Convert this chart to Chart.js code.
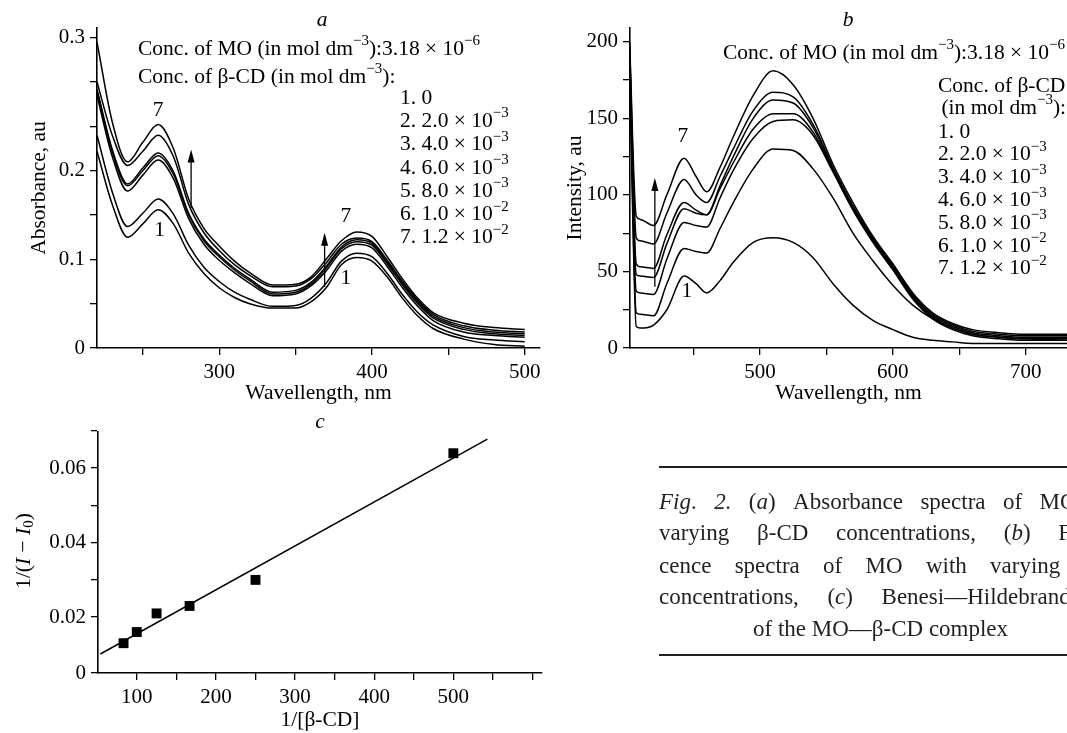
<!DOCTYPE html>
<html>
<head>
<meta charset="utf-8">
<script src="https://cdn.jsdelivr.net/npm/chart.js@4.4.0/dist/chart.umd.min.js"></script>
<style>
html, body { margin: 0; padding: 0; background: #fff; overflow: hidden; }
#page { position: relative; width: 1067px; height: 733px; overflow: hidden; }
#page canvas { position: absolute; left: 0; top: 0; }
.rule { position: absolute; left: 659px; width: 420px; border-top: 2px solid #231f20; }
.cl { position: absolute; left: 659px; width: 476px; height: 26px; display: flex; justify-content: space-between;
      white-space: nowrap; font-family: "Liberation Serif", serif; font-size: 23px; line-height: 26px; color: #231f20; }
.cl.last { left: 753px; width: auto; display: block; }
</style>
</head>
<body>
<div id="page">
  <canvas id="chartA" width="1067" height="733"></canvas>
  <canvas id="chartB" width="1067" height="733"></canvas>
  <canvas id="chartC" width="1067" height="733"></canvas>
  <div class="rule" style="top:466px"></div>
  <div class="cl" style="top:489px"><span><i>Fig</i>.</span><span><i>2.</i></span><span>(<i>a</i>)</span><span>Absorbance</span><span>spectra</span><span>of</span><span>MO</span><span>with</span></div>
  <div class="cl" style="top:520px"><span>varying</span><span>β-CD</span><span>concentrations,</span><span>(<i>b</i>)</span><span>Fluores-</span></div>
  <div class="cl" style="top:553px"><span>cence</span><span>spectra</span><span>of</span><span>MO</span><span>with</span><span>varying</span><span>β-CD</span></div>
  <div class="cl" style="top:584px"><span>concentrations,</span><span>(<i>c</i>)</span><span>Benesi—Hildebrand</span><span>plot</span></div>
  <div class="cl last" style="top:616px">of the MO—β-CD complex</div>
  <div class="rule" style="top:654px"></div>
</div>
<script>
'use strict';

// ---- panel a: absorbance spectra ----
var absWave = [220, 230, 240, 250, 260, 270, 280, 290, 300, 310, 320, 335, 350, 360, 370, 380, 390, 400, 410, 420, 430, 440, 460, 480, 500];
var abs1 = [0.222, 0.162, 0.125, 0.140, 0.156, 0.140, 0.107, 0.084, 0.068, 0.057, 0.050, 0.045, 0.045, 0.052, 0.068, 0.094, 0.102, 0.098, 0.080, 0.056, 0.036, 0.022, 0.010, 0.004, 0.002];
var abs2 = [0.240, 0.176, 0.137, 0.152, 0.168, 0.151, 0.116, 0.091, 0.075, 0.063, 0.055, 0.047, 0.048, 0.056, 0.073, 0.098, 0.107, 0.103, 0.084, 0.060, 0.040, 0.026, 0.013, 0.009, 0.007];
var abs3 = [0.285, 0.216, 0.177, 0.195, 0.212, 0.191, 0.146, 0.117, 0.099, 0.085, 0.073, 0.059, 0.061, 0.070, 0.087, 0.109, 0.117, 0.113, 0.092, 0.068, 0.047, 0.031, 0.018, 0.014, 0.012];
var abs4 = [0.290, 0.221, 0.183, 0.200, 0.217, 0.196, 0.150, 0.121, 0.103, 0.088, 0.076, 0.061, 0.063, 0.072, 0.090, 0.112, 0.120, 0.116, 0.095, 0.071, 0.050, 0.034, 0.021, 0.016, 0.014];
var abs5 = [0.292, 0.224, 0.185, 0.203, 0.220, 0.199, 0.152, 0.123, 0.105, 0.090, 0.078, 0.063, 0.065, 0.074, 0.092, 0.114, 0.122, 0.118, 0.097, 0.073, 0.052, 0.036, 0.023, 0.018, 0.016];
var abs6 = [0.300, 0.240, 0.206, 0.222, 0.240, 0.216, 0.162, 0.130, 0.110, 0.094, 0.082, 0.069, 0.070, 0.078, 0.096, 0.117, 0.124, 0.120, 0.099, 0.075, 0.054, 0.038, 0.025, 0.020, 0.018];
var abs7 = [0.345, 0.255, 0.210, 0.232, 0.252, 0.225, 0.168, 0.135, 0.115, 0.098, 0.085, 0.071, 0.072, 0.080, 0.100, 0.121, 0.131, 0.126, 0.103, 0.078, 0.056, 0.040, 0.028, 0.023, 0.021];
var absYTicks = [0, 0.05, 0.1, 0.15, 0.2, 0.25, 0.3, 0.35];
var absYLabels = ['0', '', '0.1', '', '0.2', '', '', '0.3'];
var absXTicks = [250, 300, 350, 400, 450, 500];

// ---- panel b: fluorescence spectra ----
var flWave = [402, 407, 410, 420, 430, 443, 452, 460, 470, 480, 495, 510, 525, 540, 555, 570, 585, 600, 615, 630, 645, 660, 680, 700, 731];
var fl1 = [188, 14, 13, 15, 25, 47, 42, 36, 44, 56, 69, 72, 69, 59, 42, 28, 18, 12, 7, 5, 4, 3, 3, 3, 3];
var fl2 = [190, 23, 22, 21, 42, 65, 63, 62, 78, 95, 117, 130, 129, 117, 98, 75, 57, 41, 28, 19, 13, 9, 7, 6, 5];
var fl3 = [192, 37, 36, 35, 58, 82, 80, 79, 98, 116, 137, 148, 149, 139, 115, 90, 69, 51, 32, 19, 12, 8, 6, 5, 5];
var fl4 = [194, 48, 47, 46, 68, 91, 88, 87, 104, 121, 143, 153, 153, 141, 116, 91, 70, 52, 33, 20, 13, 9, 7, 6, 6];
var fl5 = [196, 55, 53, 52, 74, 95, 90, 87, 106, 125, 150, 162, 160, 144, 117, 92, 71, 53, 34, 21, 14, 10, 8, 7, 7];
var fl6 = [198, 72, 70, 68, 88, 110, 100, 95, 112, 130, 155, 167, 164, 146, 118, 93, 72, 54, 35, 22, 15, 11, 9, 8, 8];
var fl7 = [200, 86, 84, 80, 100, 124, 112, 102, 118, 138, 165, 181, 172, 150, 120, 95, 73, 55, 36, 23, 16, 12, 10, 9, 9];
var flYTicks = [0, 25, 50, 75, 100, 125, 150, 175, 200];
var flYLabels = ['0', '', '50', '', '100', '', '150', '', '200'];
var flXTicks = [450, 500, 550, 600, 650, 700];

// ---- panel c: Benesi-Hildebrand plot ----
var bhX = [83.3, 100, 125, 166.7, 250, 500];
var bhY = [0.013, 0.016, 0.021, 0.023, 0.030, 0.064];
var fitX = [54, 543];
var fitY = [0.0101, 0.0678];
var bhYTicks = [0.005, 0.02, 0.03, 0.04, 0.05, 0.06, 0.07];
var bhYLabels = ['0', '0.02', '', '0.04', '', '0.06', ''];
var bhXTicks = [100, 150, 200, 250, 300, 350, 400, 450, 500, 550, 600];

// concentration list (β-CD)
var concNum = ['1. ', '2. ', '3. ', '4. ', '5. ', '6. ', '7. '];
var concVal = ['0', '2.0 × 10', '4.0 × 10', '6.0 × 10', '8.0 × 10', '1.0 × 10', '1.2 × 10'];
var concExp = ['', '−3', '−3', '−3', '−3', '−2', '−2'];

var FONT = '"Liberation Serif", serif';
var INK = '#000';
var TXT = 21.5;
Chart.defaults.font.family = FONT;
Chart.defaults.font.size = 21;
Chart.defaults.color = INK;

function pts(xs, ys) {
  return xs.map(function (x, i) { return { x: x, y: ys[i] }; });
}

function fontFor(kind, size) {
  var small = kind === 'sup' || kind === 'sub';
  var s = small ? Math.round(size * 0.68) : size;
  var it = kind === 'i' ? 'italic ' : '';
  return it + s + 'px ' + FONT;
}

// draws text made of parts [text, kind], kind: '' | 'i' | 'sup' | 'sub'
function rich(ctx, parts, x, y, size, align) {
  var w = 0;
  parts.forEach(function (p) { ctx.font = fontFor(p[1], size); w += ctx.measureText(p[0]).width; });
  var cx = align === 'right' ? x - w : (align === 'center' ? x - w / 2 : x);
  ctx.textAlign = 'left';
  ctx.textBaseline = 'middle';
  parts.forEach(function (p) {
    ctx.font = fontFor(p[1], size);
    var dy = p[1] === 'sup' ? -size * 0.36 : (p[1] === 'sub' ? size * 0.22 : 0);
    ctx.fillText(p[0], cx, y + dy);
    cx += ctx.measureText(p[0]).width;
  });
}

function arrowUp(ctx, x, yFrom, yTo) {
  ctx.strokeStyle = INK;
  ctx.fillStyle = INK;
  ctx.lineWidth = 1.3;
  ctx.beginPath(); ctx.moveTo(x, yFrom); ctx.lineTo(x, yTo + 8); ctx.stroke();
  ctx.beginPath(); ctx.moveTo(x, yTo); ctx.lineTo(x - 3.5, yTo + 13); ctx.lineTo(x + 3.5, yTo + 13); ctx.closePath(); ctx.fill();
}

function concList(ctx, x, y0, dy) {
  concVal.forEach(function (v, i) {
    var parts = [[concNum[i] + v, '']];
    if (concExp[i]) parts.push([concExp[i], 'sup']);
    rich(ctx, parts, x, y0 + i * dy, TXT, 'left');
  });
}

function lineSet(xs, list) {
  return list.map(function (ys) {
    return { data: pts(xs, ys), borderColor: INK, borderWidth: 1.5, pointRadius: 0,
             cubicInterpolationMode: 'monotone', fill: false };
  });
}

function axisX(min, max, ticks, showFn, title, titlePad) {
  return {
    type: 'linear', min: min, max: max,
    afterBuildTicks: function (s) { s.ticks = ticks.map(function (v) { return { value: v }; }); },
    afterFit: function (s) { s.height = 60; },
    ticks: { autoSkip: false, maxRotation: 0, padding: 5, color: INK,
             callback: function (v) { return showFn(v) ? String(v) : ''; } },
    grid: { drawOnChartArea: false, drawTicks: true, tickLength: 7, color: INK, lineWidth: 1.3 },
    border: { color: INK, width: 1.6 },
    title: { display: !!title, text: title, color: INK, font: { size: TXT }, padding: { top: 0, bottom: titlePad } }
  };
}

function axisY(min, max, ticks, labels, width, title, titlePad) {
  return {
    type: 'linear', min: min, max: max,
    afterBuildTicks: function (s) { s.ticks = ticks.map(function (v) { return { value: v }; }); },
    afterFit: function (s) { s.width = width; },
    ticks: { autoSkip: false, padding: 5, color: INK,
             callback: function (v, i) { return labels[i]; } },
    grid: { drawOnChartArea: false, drawTicks: true, tickLength: 7, color: INK, lineWidth: 1.3 },
    border: { color: INK, width: 1.6 },
    title: { display: !!title, text: title, color: INK, font: { size: TXT }, padding: { top: titlePad, bottom: 0 } }
  };
}

var baseOpts = {
  responsive: false, animation: false, events: [],
  plugins: { legend: { display: false }, tooltip: { enabled: false } }
};

// ---------- chart a ----------
new Chart(document.getElementById('chartA'), {
  type: 'line',
  data: { datasets: lineSet(absWave, [abs1, abs2, abs3, abs4, abs5, abs6, abs7]) },
  options: Object.assign({}, baseOpts, {
    layout: { padding: { left: 0, top: 28, right: 527, bottom: 325 } },
    scales: {
      x: axisX(220, 510, absXTicks, function (v) { return v % 100 === 0; }, 'Wavellength, nm', 2),
      y: axisY(0, 0.361, absYTicks, absYLabels, 97, 'Absorbance, au', 26)
    }
  }),
  plugins: [{
    id: 'notesA',
    afterDraw: function (chart) {
      var ctx = chart.ctx, xs = chart.scales.x, ys = chart.scales.y;
      ctx.save();
      ctx.fillStyle = INK;
      rich(ctx, [['a', 'i']], 322, 20, TXT, 'center');
      rich(ctx, [['Conc. of MO (in mol dm', ''], ['−3', 'sup'], ['):3.18 × 10', ''], ['−6', 'sup']], 138, 49, TXT, 'left');
      rich(ctx, [['Conc. of β-CD (in mol dm', ''], ['−3', 'sup'], ['):', '']], 138, 77, TXT, 'left');
      concList(ctx, 400, 98, 23.3);
      rich(ctx, [['7', '']], xs.getPixelForValue(260), ys.getPixelForValue(0.268), TXT, 'center');
      rich(ctx, [['1', '']], xs.getPixelForValue(261), ys.getPixelForValue(0.133), TXT, 'center');
      rich(ctx, [['7', '']], xs.getPixelForValue(383), ys.getPixelForValue(0.148), TXT, 'center');
      rich(ctx, [['1', '']], xs.getPixelForValue(383), ys.getPixelForValue(0.079), TXT, 'center');
      arrowUp(ctx, xs.getPixelForValue(281.6), ys.getPixelForValue(0.158), ys.getPixelForValue(0.224));
      arrowUp(ctx, xs.getPixelForValue(369), ys.getPixelForValue(0.069), ys.getPixelForValue(0.130));
      ctx.restore();
    }
  }]
});

// ---------- chart b ----------
new Chart(document.getElementById('chartB'), {
  type: 'line',
  data: { datasets: lineSet(flWave, [fl1, fl2, fl3, fl4, fl5, fl6, fl7]) },
  options: Object.assign({}, baseOpts, {
    layout: { padding: { left: 560, top: 28, right: 0, bottom: 325 } },
    scales: {
      x: axisX(402.3, 731, flXTicks, function (v) { return v % 100 === 0; }, 'Wavellength, nm', 2),
      y: axisY(0, 209, flYTicks, flYLabels, 70, 'Intensity, au', 2)
    }
  }),
  plugins: [{
    id: 'notesB',
    afterDraw: function (chart) {
      var ctx = chart.ctx, xs = chart.scales.x, ys = chart.scales.y;
      ctx.save();
      ctx.fillStyle = INK;
      rich(ctx, [['b', 'i']], 848, 20, TXT, 'center');
      rich(ctx, [['Conc. of MO (in mol dm', ''], ['−3', 'sup'], ['):3.18 × 10', ''], ['−6', 'sup']], 723, 53, TXT, 'left');
      rich(ctx, [['Conc. of β-CD', '']], 938, 86, TXT, 'left');
      rich(ctx, [[' (in mol dm', ''], ['−3', 'sup'], ['):', '']], 936, 108, TXT, 'left');
      concList(ctx, 938, 132, 22.8);
      rich(ctx, [['7', '']], xs.getPixelForValue(442), ys.getPixelForValue(138), TXT, 'center');
      rich(ctx, [['1', '']], xs.getPixelForValue(445), ys.getPixelForValue(37), TXT, 'center');
      arrowUp(ctx, xs.getPixelForValue(421), ys.getPixelForValue(40), ys.getPixelForValue(111));
      ctx.restore();
    }
  }]
});

// ---------- chart c ----------
new Chart(document.getElementById('chartC'), {
  type: 'scatter',
  data: {
    datasets: [
      { type: 'line', data: pts(fitX, fitY), borderColor: INK, borderWidth: 1.5, pointRadius: 0, fill: false },
      { data: pts(bhX, bhY), pointStyle: 'rect', pointRadius: 7, backgroundColor: INK, borderColor: INK, borderWidth: 0 }
    ]
  },
  options: Object.assign({}, baseOpts, {
    layout: { padding: { left: 0, top: 432, right: 525, bottom: 0 } },
    scales: {
      x: axisX(51, 612, bhXTicks, function (v) { return v % 100 === 0 && v <= 500; }, '1/[β-CD]', 0),
      y: axisY(0.005, 0.0697, bhYTicks, bhYLabels, 98, '', 0)
    }
  }),
  plugins: [{
    id: 'notesC',
    afterDraw: function (chart) {
      var ctx = chart.ctx;
      ctx.save();
      ctx.fillStyle = INK;
      rich(ctx, [['c', 'i']], 320, 422, TXT, 'center');
      ctx.translate(24, 551);
      ctx.rotate(-Math.PI / 2);
      rich(ctx, [['1/(', ''], ['I', 'i'], [' − ', ''], ['I', 'i'], ['0', 'sub'], [')', '']], 0, 0, TXT, 'center');
      ctx.restore();
    }
  }]
});
</script>
</body>
</html>
